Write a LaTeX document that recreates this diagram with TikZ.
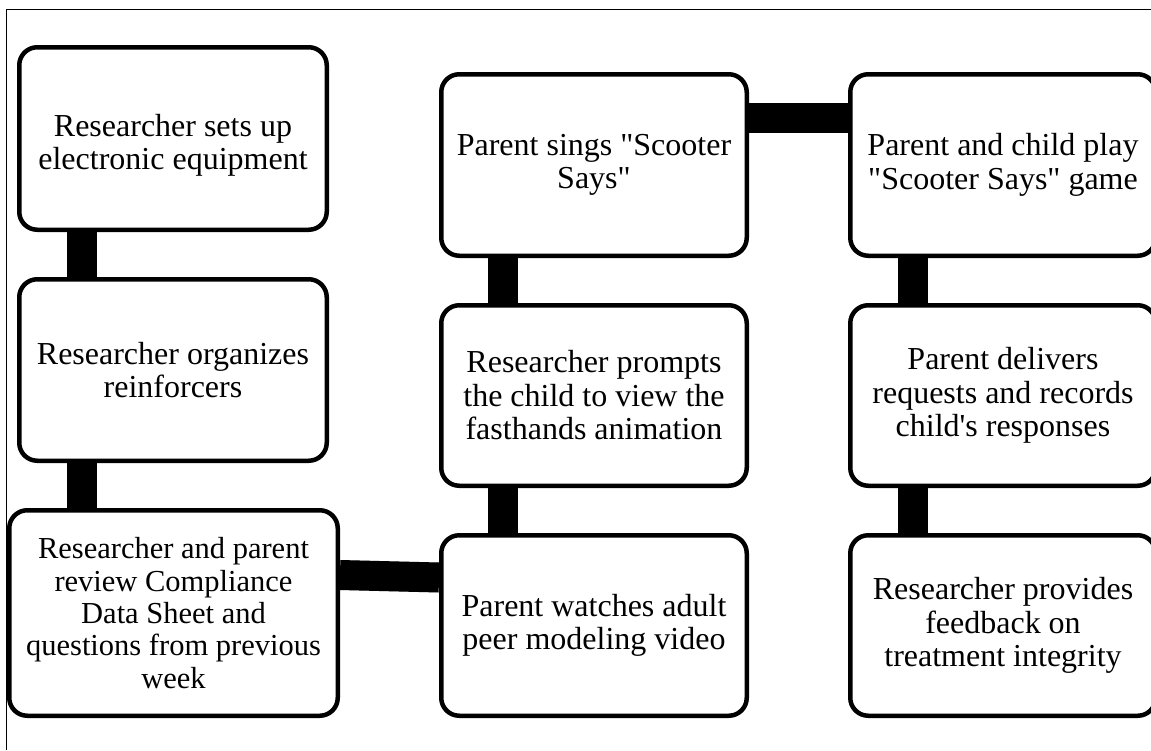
\documentclass[tikz,border=0pt]{standalone}
\usepackage{fontspec}
\setmainfont{Liberation Serif}[Ligatures=TeXOff]
\usetikzlibrary{backgrounds}

\tikzset{
  stepbox/.style={draw=black, line width=4.5pt, fill=white, rounded corners=18pt,
    inner sep=0pt, align=center, minimum width=305.5pt, minimum height=181pt,
    font=\fontsize{32}{33.5}\selectfont},
  steptext/.style={inner sep=0pt, align=center, font=\fontsize{32}{33.5}\selectfont},
  bar/.style={line width=30pt, black},
  barshadow/.style={line width=30pt, black!22},
  frame/.style={line width=1pt, black}
}

\begin{document}
\begin{tikzpicture}[x=1pt, y=-1pt]
  \useasboundingbox (0,0) rectangle (1151,750);
  \clip (0,0) rectangle (1151,750);

  % outer frame (left and top edges)
  \draw[frame] (6,750) -- (6,9) -- (1151,9);

  % first column
  \node[stepbox, minimum width=307.5pt, minimum height=182.5pt] (b1) at (173,138.5) {};
  \node[steptext] (b1t) at ([yshift=-7pt]b1.center)
    {Researcher sets up\\electronic equipment};
  \node[stepbox, minimum width=307.5pt, minimum height=181.5pt] (b2) at (173,370)
    {Researcher organizes\\reinforcers};
  \node[stepbox, minimum width=328.5pt, minimum height=205.5pt,
        font=\fontsize{30.5}{32.4}\selectfont] (b3) at (173.5,613)
    {Researcher and parent\\review Compliance\\Data Sheet and\\questions from previous\\week};

  % second column
  \node[stepbox, minimum height=181.5pt] (b6) at (594,165)
    {Parent sings "Scooter\\Says"};
  \node[stepbox, minimum height=180.5pt] (b5) at (594,395.5)
    {Researcher prompts\\the child to view the\\fasthands animation};
  \node[stepbox, minimum height=180.5pt] (b4) at (594,625.5)
    {Parent watches adult\\peer modeling video};

  % third column
  \node[stepbox, minimum height=181.5pt] (b7) at (1003,165)
    {Parent and child play\\"Scooter Says" game};
  \node[stepbox, minimum height=180.5pt] (b8) at (1003,395.5)
    {Parent delivers\\requests and records\\child's responses};
  \node[stepbox, minimum height=180.5pt] (b9) at (1003,625.5)
    {Researcher provides\\feedback on\\treatment integrity};

  % connecting bars with a soft shadow, behind the boxes
  \begin{scope}[on background layer]
    \begin{scope}[shift={(3,3)}]
      \draw[barshadow] ([xshift=-91pt]b1.south) -- ([xshift=-91pt]b2.north);
      \draw[barshadow] ([xshift=-91pt]b2.south) -- ([xshift=-91.5pt]b3.north);
      \draw[barshadow] ([yshift=38pt]b3.east) -- ([yshift=48pt]b4.west);
      \draw[barshadow] ([xshift=-91pt]b4.north) -- ([xshift=-91pt]b5.south);
      \draw[barshadow] ([xshift=-91pt]b5.north) -- ([xshift=-91pt]b6.south);
      \draw[barshadow] ([yshift=47pt]b6.east) -- ([yshift=47pt]b7.west);
      \draw[barshadow] ([xshift=-90.5pt]b7.south) -- ([xshift=-90.5pt]b8.north);
      \draw[barshadow] ([xshift=-90.5pt]b8.south) -- ([xshift=-90.5pt]b9.north);
    \end{scope}
    \draw[bar] ([xshift=-91pt]b1.south) -- ([xshift=-91pt]b2.north);
    \draw[bar] ([xshift=-91pt]b2.south) -- ([xshift=-91.5pt]b3.north);
    \draw[bar] ([yshift=38pt]b3.east) -- ([yshift=48pt]b4.west);
    \draw[bar] ([xshift=-91pt]b4.north) -- ([xshift=-91pt]b5.south);
    \draw[bar] ([xshift=-91pt]b5.north) -- ([xshift=-91pt]b6.south);
    \draw[bar] ([yshift=47pt]b6.east) -- ([yshift=47pt]b7.west);
    \draw[bar] ([xshift=-90.5pt]b7.south) -- ([xshift=-90.5pt]b8.north);
    \draw[bar] ([xshift=-90.5pt]b8.south) -- ([xshift=-90.5pt]b9.north);
  \end{scope}
\end{tikzpicture}
\end{document}
